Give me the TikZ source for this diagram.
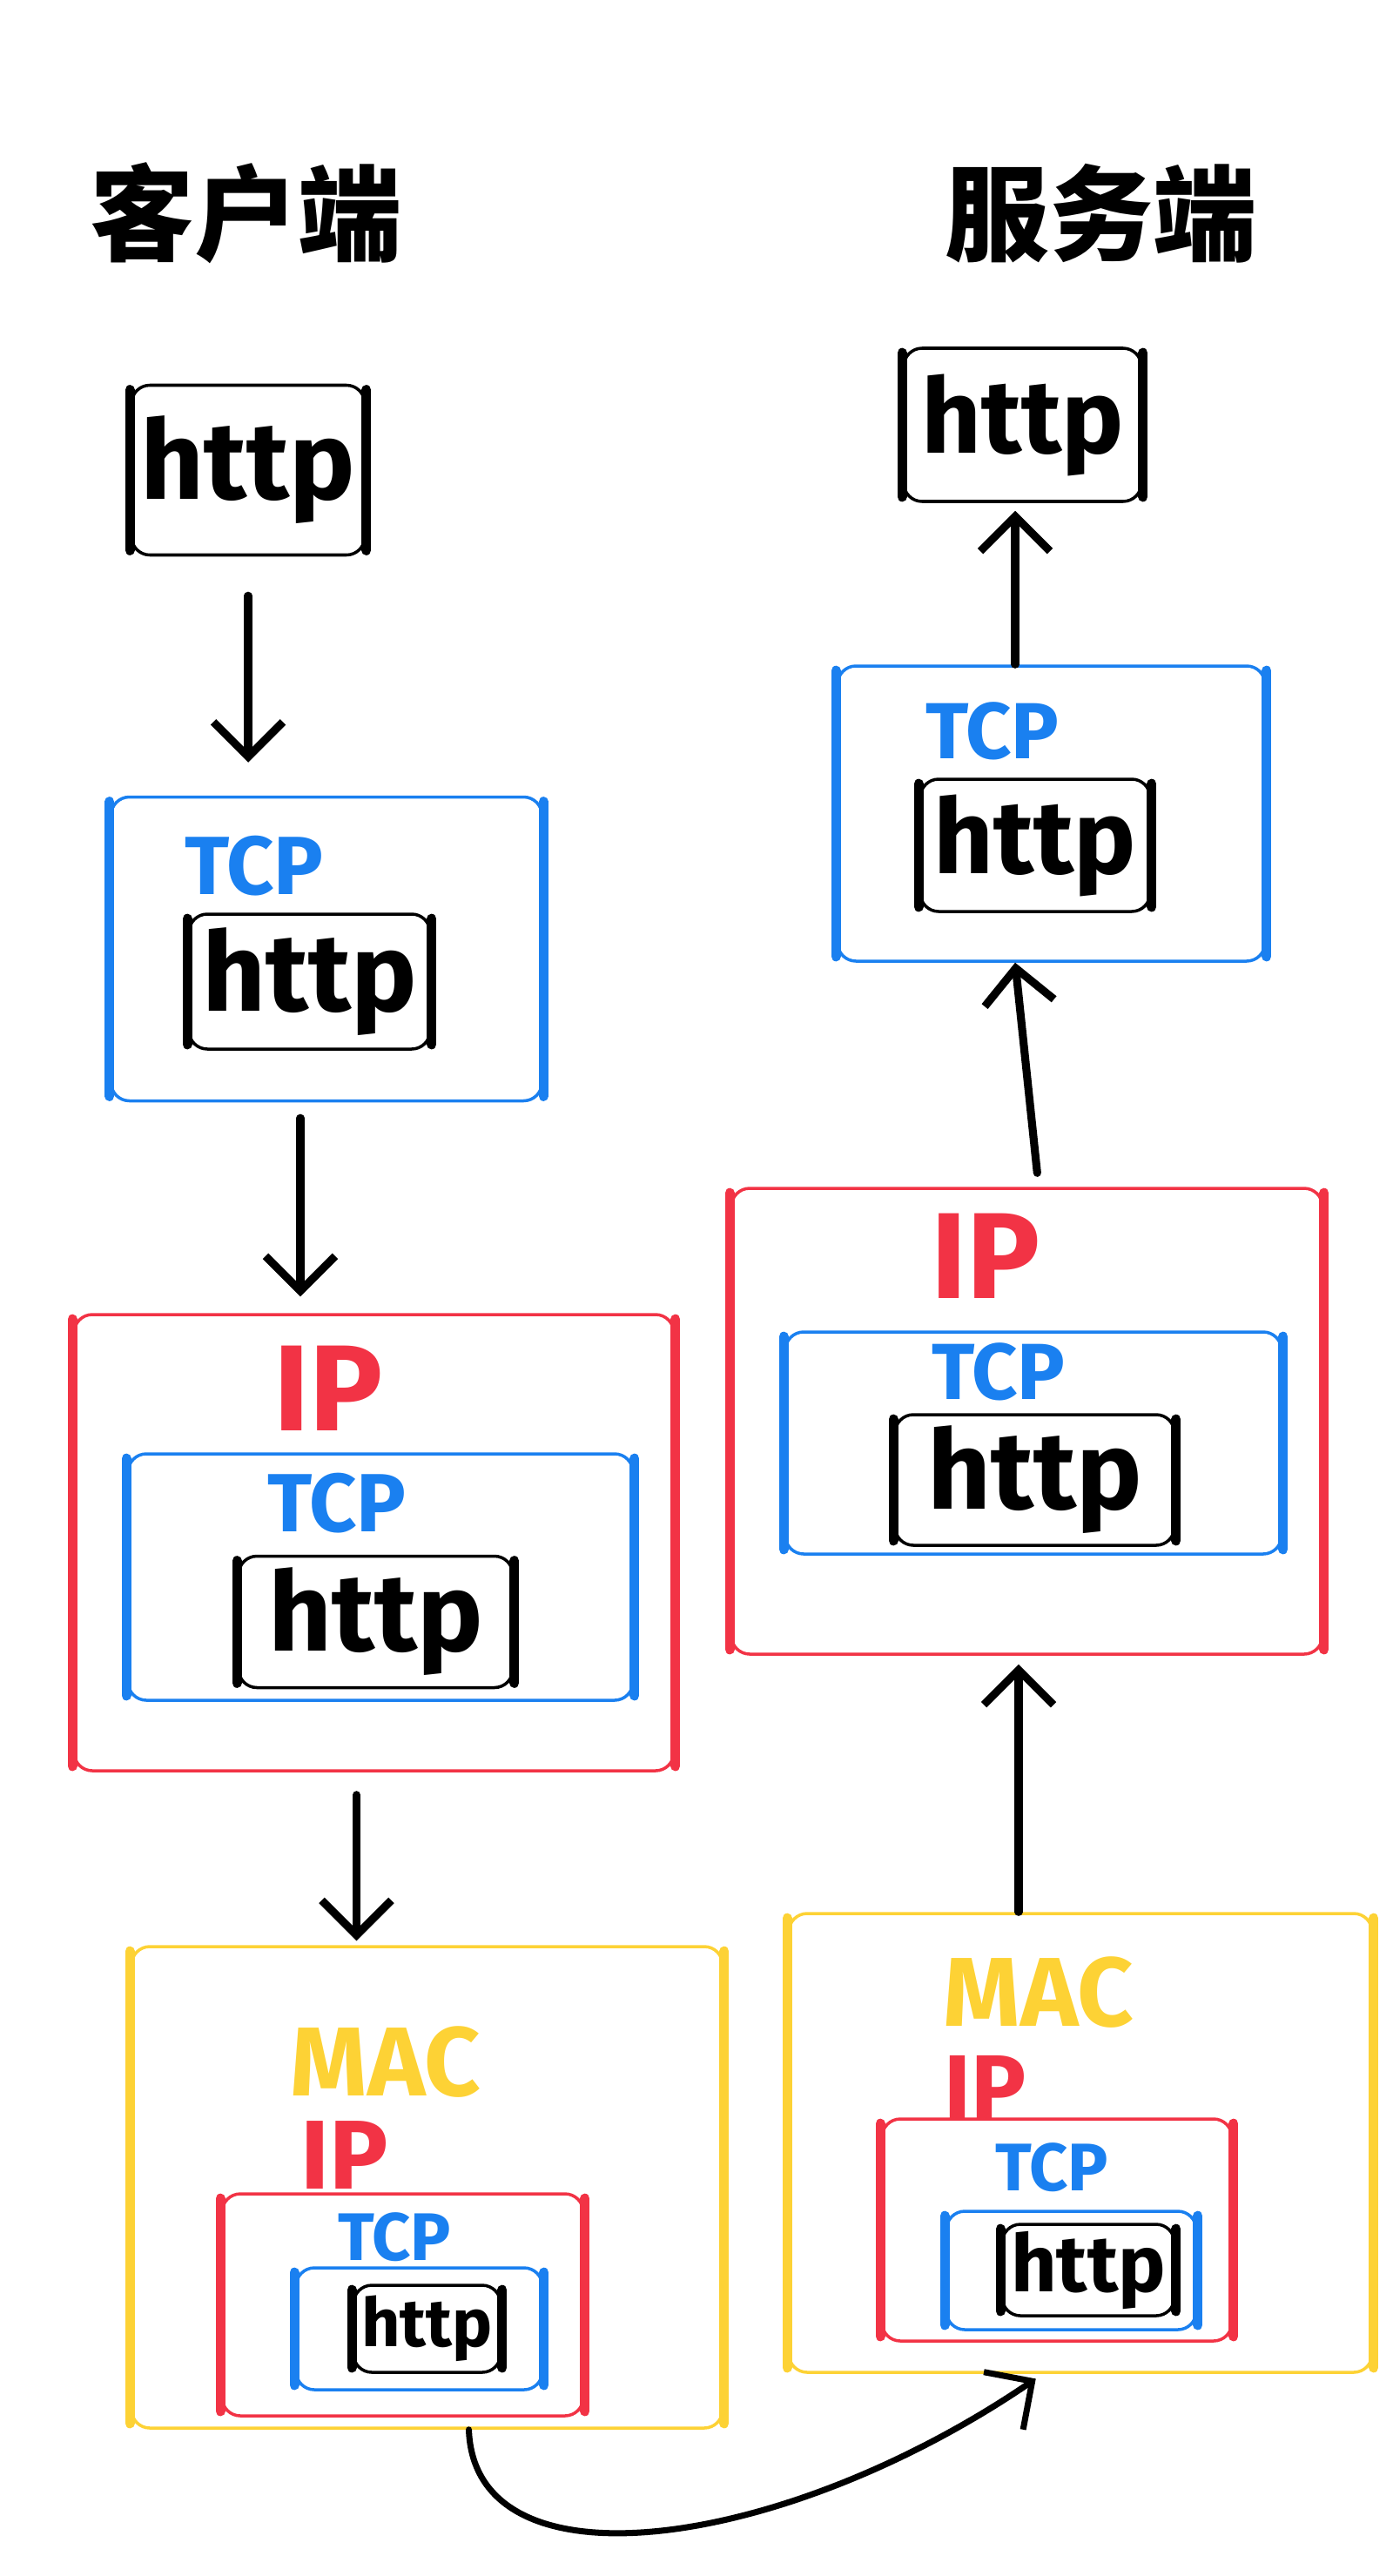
\documentclass[tikz,border=0pt]{standalone}
\usepackage{fontspec}
\setmainfont{Fira Sans}
\newfontfamily\cjk{Noto Sans CJK SC}
\usetikzlibrary{arrows.meta}
\usetikzlibrary{positioning}

\definecolor{tcpblue}{RGB}{26,128,240}
\definecolor{ipred}{RGB}{242,51,69}
\definecolor{macyellow}{RGB}{253,210,53}
\newcommand{\fsz}[1]{\fontsize{#1}{#1}\selectfont}

\tikzset{
	frame/.style={draw=#1, line width=1pt, rounded corners=6pt, inner sep=0pt},
	httpbox/.style={frame=black, font=\bfseries\fsz{#1}},
	lab/.style={text=#1, inner sep=0pt},
	side/.style={line width=3.2pt, line cap=round},
	flow/.style={line width=2.6pt, line cap=round, -{Straight Barb[length=4mm,width=8mm]}}
}

\begin{document}
\begin{tikzpicture}
		\useasboundingbox (0,0) rectangle (16,-29.59);
		\node (ct) at (2.83,-2.45) {\cjk\bfseries\fsz{34}客户端};
		\node (st) at (12.65,-2.45) {\cjk\bfseries\fsz{34}服务端};
		% client
		\node[httpbox=36, minimum width=2.68cm, minimum height=1.95cm] (c1) at (2.85,-5.40) {http};
		\node[frame=tcpblue, minimum width=4.95cm, minimum height=3.49cm] (c2) at (3.75,-10.90) {};
		\node[lab=tcpblue, font=\bfseries\fsz{27}] (c2l) at (2.92,-9.95) {TCP};
		\node[httpbox=36, minimum width=2.77cm, minimum height=1.55cm] (c2h) at (3.555,-11.275) {http};
		\node[frame=ipred, minimum width=6.89cm, minimum height=5.24cm] (c3) at (4.295,-17.72) {};
		\node[lab=ipred, font=\bfseries\fsz{40}] (c3l) at (3.77,-15.95) {IP};
		\node[frame=tcpblue, minimum width=5.80cm, minimum height=2.83cm] (c3t) at (4.37,-18.115) {};
		\node[lab=tcpblue, font=\bfseries\fsz{27}] (c3tl) at (3.87,-17.27) {TCP};
		\node[httpbox=36, minimum width=3.15cm, minimum height=1.51cm] (c3h) at (4.315,-18.63) {http};
		\node[frame=macyellow, minimum width=6.79cm, minimum height=5.53cm] (c4) at (4.905,-25.125) {};
		\node[lab=macyellow, font=\bfseries\fsz{32}] (c4l) at (4.43,-23.68) {MAC};
		\node[lab=ipred, font=\bfseries\fsz{32}] (c4il) at (3.96,-24.75) {IP};
		\node[frame=ipred, minimum width=4.15cm, minimum height=2.55cm] (c4i) at (4.625,-26.475) {};
		\node[lab=tcpblue, font=\bfseries\fsz{22}] (c4tl) at (4.53,-25.70) {TCP};
		\node[frame=tcpblue, minimum width=2.83cm, minimum height=1.40cm] (c4t) at (4.815,-26.75) {};
		\node[httpbox=22, minimum width=1.69cm, minimum height=1.0cm] (c4h) at (4.905,-26.75) {http};
		% server
		\node[httpbox=34, minimum width=2.73cm, minimum height=1.76cm] (s1) at (11.745,-4.88) {http};
		\node[frame=tcpblue, minimum width=4.91cm, minimum height=3.39cm] (s2) at (12.075,-9.345) {};
		\node[lab=tcpblue, font=\bfseries\fsz{26}] (s2l) at (11.40,-8.40) {TCP};
		\node[httpbox=34, minimum width=2.64cm, minimum height=1.52cm] (s2h) at (11.89,-9.71) {http};
		\node[frame=ipred, minimum width=6.79cm, minimum height=5.35cm] (s3) at (11.795,-16.325) {};
		\node[lab=ipred, font=\bfseries\fsz{40}] (s3l) at (11.32,-14.43) {IP};
		\node[frame=tcpblue, minimum width=5.70cm, minimum height=2.55cm] (s3t) at (11.87,-16.575) {};
		\node[lab=tcpblue, font=\bfseries\fsz{26}] (s3tl) at (11.47,-15.76) {TCP};
		\node[httpbox=36, minimum width=3.21cm, minimum height=1.50cm] (s3h) at (11.885,-17.0) {http};
		\node[frame=macyellow, minimum width=6.70cm, minimum height=5.27cm] (s4) at (12.41,-24.615) {};
		\node[lab=macyellow, font=\bfseries\fsz{32}] (s4l) at (11.93,-22.89) {MAC};
		\node[lab=ipred, font=\bfseries\fsz{30}] (s4il) at (11.32,-23.98) {IP};
		\node[frame=ipred, minimum width=4.02cm, minimum height=2.55cm] (s4i) at (12.14,-25.615) {};
		\node[lab=tcpblue, font=\bfseries\fsz{22}] (s4tl) at (12.08,-24.90) {TCP};
		\node[frame=tcpblue, minimum width=2.87cm, minimum height=1.36cm] (s4t) at (12.305,-26.08) {};
		\node[httpbox=26, minimum width=1.98cm, minimum height=1.05cm] (s4h) at (12.5,-26.075) {http};
		\foreach \b/\c in {c1/black,c2h/black,c3h/black,c4h/black,s1/black,s2h/black,s3h/black,s4h/black,
			c2/tcpblue,c3t/tcpblue,c4t/tcpblue,s2/tcpblue,s3t/tcpblue,s4t/tcpblue,
			c3/ipred,c4i/ipred,s3/ipred,s4i/ipred,c4/macyellow,s4/macyellow}
		{
			\draw[side,\c] ([yshift=-2pt]\b.north west) -- ([yshift=2pt]\b.south west)
				([yshift=-2pt]\b.north east) -- ([yshift=2pt]\b.south east);
		}
		\draw[flow, shorten <=4.5mm, shorten >=3.8mm] (c1.south) -- (c1.south |- c2.north);
		\draw[flow, shorten <=1.8mm, shorten >=1.9mm] ([xshift=-3mm]c2.south) -- ([xshift=-3mm]c2.south |- c3.north);
		\draw[flow, shorten <=2.6mm, shorten >=0.5mm] ([xshift=-2mm]c3.south) -- ([xshift=-2mm]c3.south |- c4.north);
		\draw[flow, shorten >=1mm] ([xshift=-7.1mm]s4.north) -- ([xshift=-7.1mm]s4.north |- s3.south);
		\draw[flow, shorten <=1.6mm] ([xshift=1.35mm]s3.north) -- ([xshift=-4.15mm]s2.south);
		\draw[flow, shorten >=0.9mm] ([xshift=-4.15mm]s2.north) -- ([xshift=-4.15mm]s2.north |- s1.south);
		\coordinate (c5) at ([xshift=4.8mm]c4.south);
		\coordinate (s5) at ([xshift=-4.3mm]s4.south);
		\draw[flow, line width=2pt, shorten >=1mm] (c5) .. controls (5.45,-29.8) and (9.0,-29.3) .. (s5);
	\end{tikzpicture}
\end{document}
